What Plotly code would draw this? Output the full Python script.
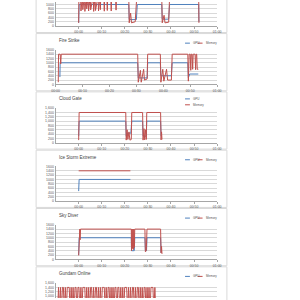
import plotly.graph_objects as go

# ---------------- data ----------------
titles = ["", "Fire Strike", "Cloud Gate", "Ice Storm Extreme", "Sky Diver", "Gundam Online"]
series_names = ["GPU", "Memory"]
time_labels = ["00:00", "00:10", "00:20", "00:30", "00:40", "00:50", "01:00"]

# panel 0 (title cut off)
p0_gpu_t = [1.00, 1.02, 3.17, 3.19, 3.50, 3.54, 4.60, 4.62, 4.90, 4.94, 6.20, 6.21]
p0_gpu_v = [150, 1000, 1000, 300, 300, 1000, 1000, 320, 320, 1000, 1000, 200]
p0_mem_t = [1.00, 1.01, 1.08, 1.10, 1.12, 1.16, 1.18, 1.20, 1.25, 1.27, 1.29, 1.33, 1.35, 1.37,
            1.41, 1.43, 1.45, 1.50, 1.52, 1.54, 1.63, 1.65, 1.67, 1.71, 1.73, 1.75, 1.84, 1.86,
            1.88, 1.92, 1.94, 1.96, 2.09, 2.11, 2.13, 2.22, 2.24, 2.26, 2.39, 2.41, 2.43, 2.60,
            2.62, 2.64, 3.17, 3.19, 3.25, 3.29, 3.45, 3.52, 4.60, 4.62, 4.70, 4.74, 4.90, 4.94,
            6.20, 6.21]
p0_mem_v = [150, 1400, 1400, 700, 1400, 1400, 760, 1400, 1400, 680, 1400, 1400, 800, 1400,
            1400, 700, 1400, 1400, 750, 1400, 1400, 680, 1400, 1400, 720, 1400, 1400, 700,
            1400, 1400, 760, 1400, 1400, 690, 1400, 1400, 720, 1400, 1400, 700, 1400, 1400,
            740, 1400, 1400, 150, 600, 150, 200, 1400, 1400, 150, 500, 150, 180, 1400,
            1400, 150]

# Fire Strike
p1_gpu_t = [0.16, 0.17, 3.05, 3.07, 3.40, 3.42, 3.89, 3.91, 4.30, 4.33, 4.91, 4.93, 4.98, 5.30]
p1_gpu_v = [340, 1000, 1000, 300, 300, 1000, 1000, 400, 400, 1000, 1000, 300, 480, 480]
p1_mem_t = [0.10, 0.11, 0.17, 0.19, 0.21, 3.05, 3.07, 3.15, 3.18, 3.27, 3.30, 3.40, 3.42,
            3.89, 3.91, 3.98, 4.02, 4.12, 4.16, 4.30, 4.33, 4.91, 4.93, 4.96, 5.00, 5.02,
            5.04, 5.07, 5.09, 5.11, 5.18, 5.20, 5.22, 5.24, 5.26, 5.30]
p1_mem_v = [100, 1400, 1400, 950, 1400, 1400, 100, 650, 100, 700, 200, 250, 1400,
            1400, 100, 700, 150, 700, 200, 200, 1400, 1400, 150, 1400, 1400, 650,
            1400, 1400, 700, 1400, 1400, 680, 1400, 1400, 700, 700]

# Cloud Gate
p2_gpu_t = [1.00, 1.02, 3.04, 3.06, 3.10, 3.26, 3.30, 3.77, 3.79, 3.93, 3.95, 4.55, 4.57]
p2_gpu_v = [300, 1000, 1000, 300, 440, 440, 1000, 1000, 300, 300, 1000, 1000, 300]
p2_mem_t = [1.00, 1.02, 3.04, 3.06, 3.10, 3.13, 3.18, 3.22, 3.28, 3.30, 3.77, 3.79, 3.83,
            3.86, 3.90, 3.93, 3.95, 4.55, 4.57, 4.59, 4.61]
p2_mem_v = [120, 1400, 1400, 120, 600, 150, 500, 120, 150, 1400, 1400, 120, 650,
            130, 600, 150, 1400, 1400, 130, 500, 150]

# Ice Storm Extreme
p3_gpu_t = [1.00, 1.02, 3.24]
p3_gpu_v = [460, 1000, 1000]
p3_mem_t = [1.00, 3.24]
p3_mem_v = [1400, 1400]

# Sky Diver
p4_gpu_t = [1.00, 1.02, 3.28, 3.29, 3.41, 3.43, 3.87, 3.89, 3.94, 3.96, 4.55, 4.57]
p4_gpu_v = [200, 1000, 1000, 400, 400, 1000, 1000, 400, 400, 1000, 1000, 300]
p4_mem_t = [1.00, 1.02, 1.05, 1.06, 1.08, 3.28, 3.29, 3.31, 3.33, 3.35, 3.37, 3.39, 3.41,
            3.43, 3.87, 3.89, 3.93, 3.96, 4.55, 4.57, 4.59, 4.61]
p4_mem_v = [180, 1400, 1400, 900, 1400, 1400, 400, 1400, 500, 1400, 450, 1400, 550,
            1400, 1400, 350, 400, 1400, 1400, 300, 600, 250]

# Gundam Online (one sample per step; time in sample units)
p5_gpu_t = [2, 30, 60, 104]
p5_gpu_v = [600, 700, 650, 700]
p5_mem_v = [200, 1400, 300, 1400, 250, 1400, 1400, 320, 1400, 280, 1400, 1400, 1400, 260,
            1400, 310, 1400, 240, 1400, 1400, 290, 1400, 1400, 270, 1400, 330, 1400, 1400,
            1400, 250, 1400, 300, 1400, 260, 1400, 1400, 280, 1400, 320, 1400, 1400, 240,
            1400, 300, 1400, 270, 1400, 1400, 1400, 310, 1400, 260, 1400, 1400, 290, 1400,
            250, 1400, 320, 1400, 1400, 280, 1400, 1400, 300, 1400, 240, 1400, 270, 1400,
            1400, 1400, 330, 1400, 260, 1400, 290, 1400, 1400, 250, 1400, 310, 1400, 1400,
            280, 1400, 300, 1400, 240, 1400, 1400, 270, 1400, 320, 1400, 260, 1400, 1400,
            1400, 290, 1400, 250, 300]
p5_mem_t = list(range(2, 2 + len(p5_mem_v)))

panels = [
    (p0_gpu_t, p0_gpu_v, p0_mem_t, p0_mem_v),
    (p1_gpu_t, p1_gpu_v, p1_mem_t, p1_mem_v),
    (p2_gpu_t, p2_gpu_v, p2_mem_t, p2_mem_v),
    (p3_gpu_t, p3_gpu_v, p3_mem_t, p3_mem_v),
    (p4_gpu_t, p4_gpu_v, p4_mem_t, p4_mem_v),
    (p5_gpu_t, p5_gpu_v, p5_mem_t, p5_mem_v),
]

# ---------------- style / layout ----------------
FONT = "Liberation Sans"
BLUE = "#4F81BD"
RED = "#C0504D"
GRID = "#D9D9D9"
AXIS = "#A6A6A6"
TXT = "#595959"
W = H = 300
PX0, PX1 = 53, 219          # plot area x (px)
FIRST_TOP, PERIOD, PH = 48.5, 59.1, 35.0
YMAX = 1600


def fx(px):
    return px / W


def fy(py):
    return 1 - py / H


fig = go.Figure()
shapes = []
annotations = []

for i, (gt, gv, mt, mv) in enumerate(panels):
    n = i + 1
    top = FIRST_TOP + (i - 1) * PERIOD
    bot = top + PH
    # visible part of the plot area
    vtop, vbot = max(top, 0), min(bot, H)
    lo = (bot - vbot) / PH * YMAX
    hi = (bot - vtop) / PH * YMAX
    xs = "x" if n == 1 else f"x{n}"
    ys = "y" if n == 1 else f"y{n}"
    fig.add_trace(go.Scatter(x=gt, y=gv, mode="lines", name=series_names[0],
                             line=dict(color=BLUE, width=1), xaxis=xs, yaxis=ys,
                             showlegend=False))
    fig.add_trace(go.Scatter(x=mt, y=mv, mode="lines", name=series_names[1],
                             line=dict(color=RED, width=1), xaxis=xs, yaxis=ys,
                             showlegend=False))

    if i == 1:
        xr, tv = [0, 6], [0, 1, 2, 3, 4, 5, 6]
    elif i == 5:
        xr, tv = [0, 166], []
    else:
        xr, tv = [0, 7], [1, 2, 3, 4, 5, 6, 7]
    xkey = "xaxis" if n == 1 else f"xaxis{n}"
    ykey = "yaxis" if n == 1 else f"yaxis{n}"
    fig.layout[xkey] = dict(
        domain=[fx(PX0), fx(PX1)], anchor=ys, range=xr,
        tickvals=tv, ticktext=time_labels[:len(tv)],
        showgrid=False, zeroline=False,
        showline=(i != 5), linecolor=AXIS, linewidth=1,
        ticks="outside" if i != 5 else "", ticklen=2, tickcolor=AXIS,
        tickfont=dict(family=FONT, size=3.5, color=TXT),
    )
    fig.layout[ykey] = dict(
        domain=[fy(vbot), fy(vtop)], anchor=xs, range=[lo, hi],
        tickvals=[0, 200, 400, 600, 800, 1000, 1200, 1400, 1600],
        tickformat="," if i in (2, 5) else "d",
        showgrid=True, gridcolor=GRID, gridwidth=1, zeroline=False,
        showline=True, linecolor=AXIS, linewidth=1,
        ticks="", tickfont=dict(family=FONT, size=3.5, color=TXT),
    )

    # panel border
    shapes.append(dict(type="rect", xref="paper", yref="paper",
                       x0=fx(33), x1=fx(229), y0=fy(top + 41.5), y1=fy(top - 16.5),
                       line=dict(color=GRID, width=1), layer="below"))
    if i == 0:
        continue  # title and legend of the first panel are above the visible page
    # title
    annotations.append(dict(text=titles[i], xref="paper", yref="paper",
                            x=fx(54), y=fy(top - 9.5), xanchor="left", yanchor="middle",
                            showarrow=False,
                            font=dict(family=FONT, size=4.5, color="#404040")))
    # legend
    if i == 2:
        rows = [(186, top - 9.4), (186, top - 3.4)]
    else:
        rows = [(186, top - 6.8), (199, top - 6.8)]
    for (lx, ly), name, col in zip(rows, series_names, [BLUE, RED]):
        shapes.append(dict(type="line", xref="paper", yref="paper",
                           x0=fx(lx), x1=fx(lx + 5), y0=fy(ly), y1=fy(ly),
                           line=dict(color=col, width=1)))
        annotations.append(dict(text=name, xref="paper", yref="paper",
                                x=fx(lx + 6.5), y=fy(ly), xanchor="left", yanchor="middle",
                                showarrow=False,
                                font=dict(family=FONT, size=3, color=TXT)))

fig.update_layout(
    width=W, height=H, margin=dict(l=0, r=0, t=0, b=0),
    paper_bgcolor="white", plot_bgcolor="white",
    showlegend=False, shapes=shapes, annotations=annotations,
)

fig.write_html("out.html")
